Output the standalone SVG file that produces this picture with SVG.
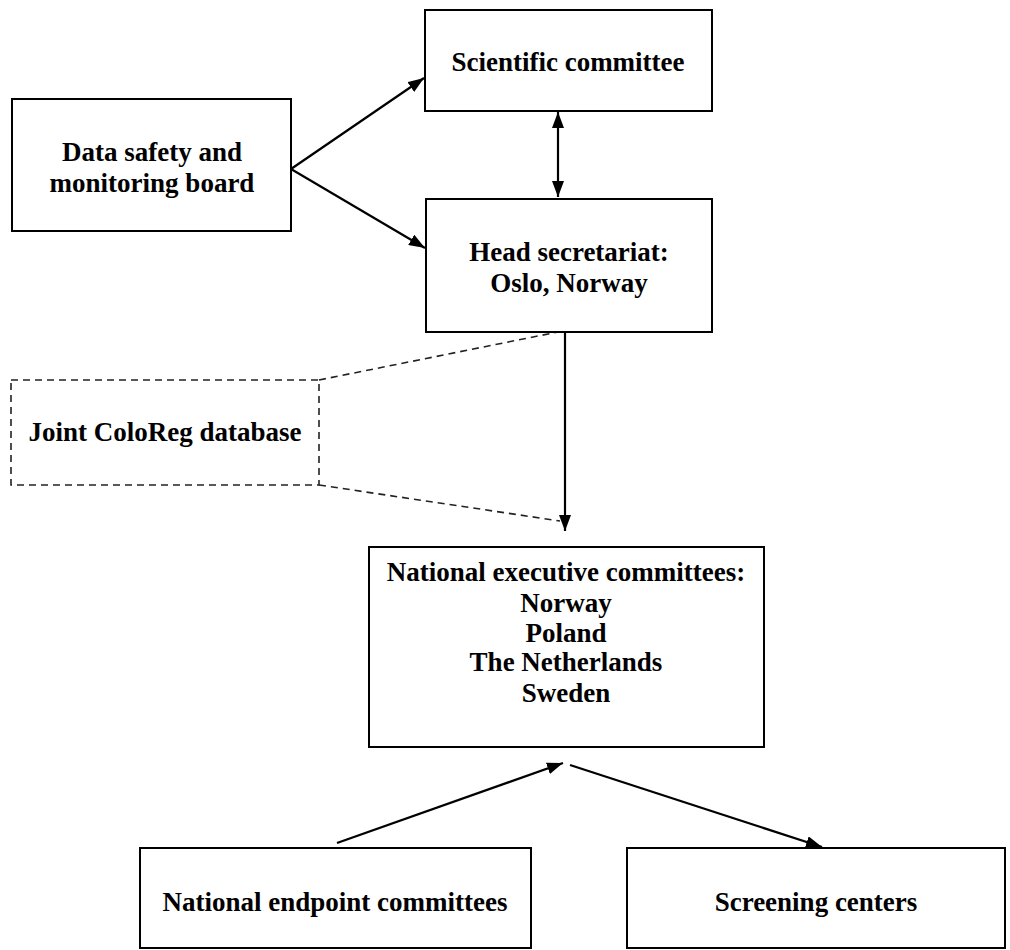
<svg xmlns="http://www.w3.org/2000/svg" width="1010" height="950" viewBox="0 0 1010 950">
<style>
.box{fill:#fff;stroke:#000;stroke-width:2}
.dbox{fill:none;stroke:#222;stroke-width:1.6;stroke-dasharray:7,5}
.t{font-family:"Liberation Serif","Times New Roman",serif;font-weight:bold;font-size:27px;fill:#000;text-anchor:middle}
.ln{stroke:#000;stroke-width:2.2;fill:none}
.dl{stroke:#222;stroke-width:1.6;stroke-dasharray:7,5;fill:none}
</style>
<defs>
<marker id="a" viewBox="0 0 10 10" refX="10" refY="5" markerWidth="16" markerHeight="12" markerUnits="userSpaceOnUse" orient="auto-start-reverse" preserveAspectRatio="none">
<path d="M0,0 L10,5 L0,10 z" fill="#000"/>
</marker>
</defs>
<g id="connectors">
<line class="ln" x1="291" y1="169" x2="424" y2="78" marker-end="url(#a)"/>
<line class="ln" x1="291" y1="169" x2="425" y2="248" marker-end="url(#a)"/>
<line class="ln" x1="558" y1="112" x2="558" y2="197" marker-start="url(#a)" marker-end="url(#a)"/>
<line class="ln" x1="565" y1="332" x2="565" y2="531" marker-end="url(#a)"/>
<line class="dl" x1="319" y1="380" x2="558" y2="332"/>
<line class="dl" x1="319" y1="485" x2="560" y2="521"/>
<line class="ln" x1="337" y1="843" x2="563" y2="763" marker-end="url(#a)"/>
<line class="ln" x1="570" y1="765" x2="822" y2="847" marker-end="url(#a)"/>
</g>
<g id="scientific-committee">
<rect class="box" x="425" y="10" width="287" height="101"/>
<text class="t" x="568" y="71">Scientific committee</text>
</g>
<g id="data-safety-board">
<rect class="box" x="12" y="99" width="279" height="132"/>
<text class="t" x="152" y="161">Data safety and</text>
<text class="t" x="152" y="192">monitoring board</text>
</g>
<g id="head-secretariat">
<rect class="box" x="426" y="199" width="286" height="133"/>
<text class="t" x="569" y="261">Head secretariat:</text>
<text class="t" x="569" y="292">Oslo, Norway</text>
</g>
<g id="joint-database">
<rect class="dbox" x="11" y="380" width="308" height="105"/>
<text class="t" x="165" y="441">Joint ColoReg database</text>
</g>
<g id="national-executive">
<rect class="box" x="369" y="547" width="395" height="200"/>
<text class="t" x="566" y="581">National executive committees:</text>
<text class="t" x="566" y="612">Norway</text>
<text class="t" x="566" y="642">Poland</text>
<text class="t" x="566" y="671">The Netherlands</text>
<text class="t" x="566" y="702">Sweden</text>
</g>
<g id="national-endpoint">
<rect class="box" x="140" y="848" width="391" height="100"/>
<text class="t" x="335" y="911">National endpoint committees</text>
</g>
<g id="screening-centers">
<rect class="box" x="627" y="848" width="378" height="100"/>
<text class="t" x="816" y="911">Screening centers</text>
</g>
</svg>
